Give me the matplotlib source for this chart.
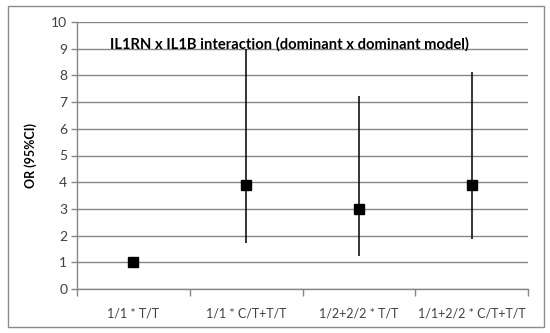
import matplotlib
matplotlib.use("Agg")
import matplotlib.pyplot as plt
from matplotlib.patches import Rectangle
import numpy as np

categories = ["1/1 * T/T", "1/1 * C/T+T/T", "1/2+2/2 * T/T", "1/1+2/2 * C/T+T/T"]
or_values = [1.0, 3.9, 3.0, 3.9]
ci_lower = [1.0, 1.71, 1.24, 1.86]
ci_upper = [1.0, 9.0, 7.23, 8.14]
title = "IL1RN x IL1B interaction (dominant x dominant model)"
ylabel = "OR (95%CI)"

plt.rcParams['font.family'] = ['Lato', 'DejaVu Sans']

fig = plt.figure(figsize=(5.5, 3.33), dpi=100)
fig.patches.append(Rectangle((8/550, 1-327/333), 536/550, 321/333, transform=fig.transFigure,
                             fill=False, edgecolor='#8c8c8c', linewidth=1.0))
ax = fig.add_axes([77/550, 1-289/333, 451/550, 267/333])

x = np.arange(len(categories))
vals = np.array(or_values)
lo = vals - np.array(ci_lower)
hi = np.array(ci_upper) - vals
ax.errorbar(x, vals, yerr=[lo, hi], fmt='s', color='black', ecolor='black',
            elinewidth=1.1, capsize=0, markersize=6.5, zorder=3)

ax.set_xlim(-0.5, len(categories) - 0.5)
ax.set_ylim(0, 10)
ax.set_yticks(range(0, 11))
ax.yaxis.grid(True, color='#878787', linewidth=1.0)
ax.set_axisbelow(True)
for s in ['top', 'right']:
    ax.spines[s].set_visible(False)
for s in ['left', 'bottom']:
    ax.spines[s].set_color('#878787')
    ax.spines[s].set_linewidth(1.0)

ax.set_xticks(x)
ax.set_xticklabels(categories, fontsize=9, color='#404040')
ax.tick_params(axis='x', which='major', length=0, pad=13)
ax.set_xticks(np.arange(-0.5, len(categories), 1.0), minor=True)
ax.tick_params(axis='x', which='minor', length=5, color='#878787', width=1.0)
ax.tick_params(axis='y', length=4, color='#878787', width=1.0, labelsize=10, labelcolor='#404040', pad=3)

ax.set_ylabel(ylabel, fontsize=9, fontweight='bold', labelpad=10)
ax.text(0.47, 0.918, title, transform=ax.transAxes, ha='center', va='center',
        fontsize=10.6, fontweight='bold')

fig.savefig("out.png", dpi=100)
